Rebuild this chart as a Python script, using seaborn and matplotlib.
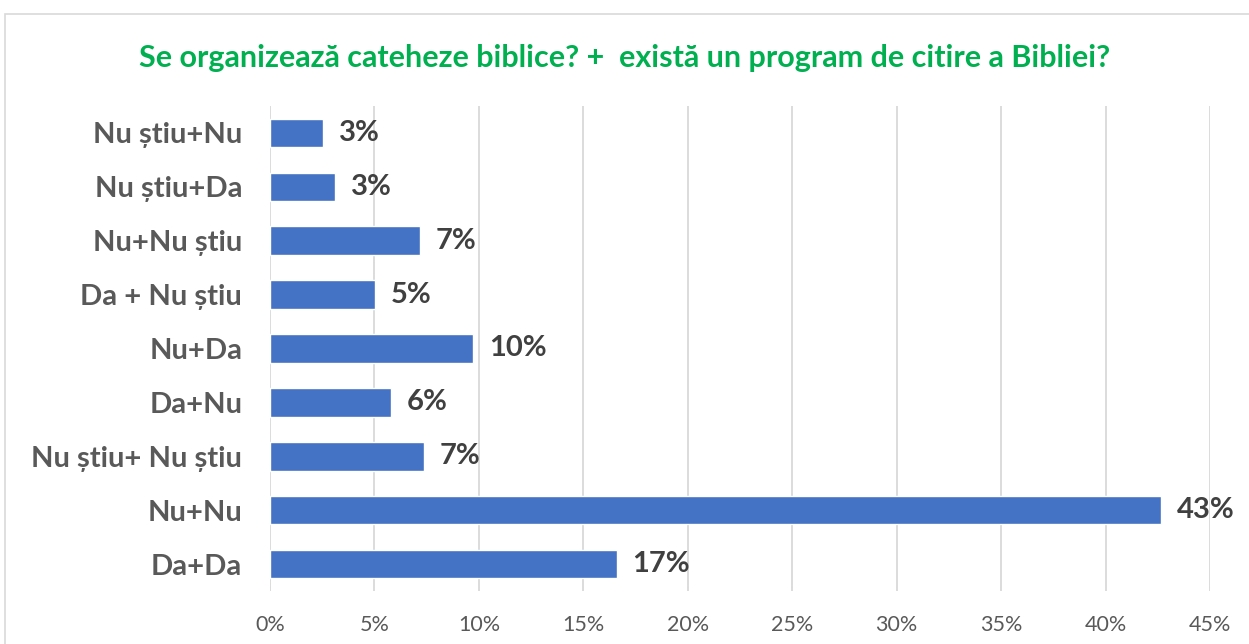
import matplotlib
matplotlib.use("Agg")
import matplotlib.pyplot as plt
import seaborn as sns
import pandas as pd
from matplotlib.patches import Rectangle
from matplotlib.ticker import MultipleLocator, FuncFormatter

categories = ["Nu știu+Nu", "Nu știu+Da", "Nu+Nu știu", "Da + Nu știu", "Nu+Da",
              "Da+Nu", "Nu știu+ Nu știu", "Nu+Nu", "Da+Da"]
values = [2.54, 3.11, 7.18, 5.03, 9.72, 5.79, 7.37, 42.66, 16.6]
labels = ["3%", "3%", "7%", "5%", "10%", "6%", "7%", "43%", "17%"]
title = "Se organizează cateheze biblice? +  există un program de citire a Bibliei?"

sns.set_theme(style="white")
plt.rcParams['font.family'] = ['Lato', 'DejaVu Sans']

df = pd.DataFrame({"cat": categories, "val": values})

W, H = 1249, 644
fig = plt.figure(figsize=(W / 100, H / 100), dpi=100)
ax = fig.add_axes([270 / W, 1 - 591 / H, (1210 - 270) / W, (591 - 106) / H])

sns.barplot(data=df, y="cat", x="val", order=categories, color="#4472C4",
            saturation=1, width=0.53, ax=ax, orient="h")

ax.set_xlim(0, 45)
ax.xaxis.set_major_locator(MultipleLocator(5))
ax.xaxis.set_major_formatter(FuncFormatter(lambda v, p: f"{int(round(v))}%"))
ax.grid(axis="x", color="#D9D9D9", linewidth=1.3)
ax.set_axisbelow(True)
for s in ax.spines.values():
    s.set_visible(False)
ax.set_xlabel("")
ax.set_ylabel("")
ax.tick_params(axis="y", length=0, pad=20, labelsize=21, labelcolor="#595959")
ax.tick_params(axis="x", length=0, pad=17, labelsize=15.5, labelcolor="#595959")
for t in ax.get_yticklabels():
    t.set_fontweight("bold")

for i, (v, lab) in enumerate(zip(values, labels)):
    ax.text(v + 0.75, i, lab, va="center", ha="left", fontsize=21,
            fontweight="bold", color="#404040")

fig.text(625 / W, 1 - 58 / H, title, ha="center", va="center", fontsize=22,
         fontweight="bold", color="#00B050")

fig.patches.append(Rectangle((5 / W, -0.1), 1.2, 1 - 14 / H + 0.1,
                             transform=fig.transFigure, fill=False,
                             edgecolor="#D9D9D9", linewidth=1.2))

fig.savefig("out.png", dpi=100)
